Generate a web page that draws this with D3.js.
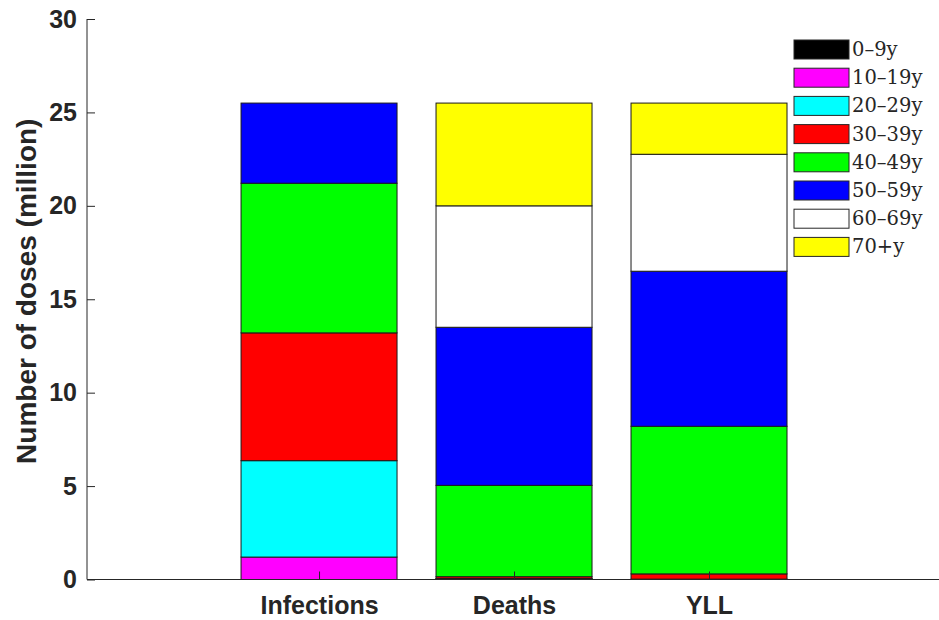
<!DOCTYPE html>
<html>
<head>
<meta charset="utf-8">
<script src="https://cdn.jsdelivr.net/npm/d3@7"></script>
<style>
  body { margin: 0; background: #fff; }
  svg { display: block; }
</style>
</head>
<body>
<svg id="chart" width="939" height="620"></svg>
<script>
const categories = ["Infections", "Deaths", "YLL"];
const ageGroups = ["0\u20139y", "10\u201319y", "20\u201329y", "30\u201339y", "40\u201349y", "50\u201359y", "60\u201369y", "70+y"];
const colors = ["#000000", "#ff00ff", "#00ffff", "#ff0000", "#00ff00", "#0000ff", "#ffffff", "#ffff00"];
// values per age group (million doses), one entry per category
const v0_9   = [0.00, 0.02, 0.00];
const v10_19 = [1.20, 0.01, 0.00];
const v20_29 = [5.16, 0.02, 0.02];
const v30_39 = [6.84, 0.10, 0.28];
const v40_49 = [8.01, 4.89, 7.90];
const v50_59 = [4.29, 8.46, 8.30];
const v60_69 = [0.00, 6.50, 6.26];
const v70p   = [0.00, 5.50, 2.74];
const yTicks = [0, 5, 10, 15, 20, 25, 30];

const series = [v0_9, v10_19, v20_29, v30_39, v40_49, v50_59, v60_69, v70p];

const svg = d3.select("#chart");
const x = d3.scaleLinear().domain([-0.19, 4.2]).range([87, 943]);
const y = d3.scaleLinear().domain([0, 30]).range([579.5, 19]);
const barW = 0.8;

const rows = categories.map((c, i) => {
  const r = { cat: c, pos: i + 1 };
  ageGroups.forEach((g, k) => r[g] = series[k][i]);
  return r;
});
const stack = d3.stack().keys(ageGroups)(rows);

const gBars = svg.append("g");
stack.forEach((layer, k) => {
  gBars.selectAll(null).data(layer).enter().append("rect")
    .attr("x", d => x(d.data.pos - barW / 2))
    .attr("width", d => x(d.data.pos + barW / 2) - x(d.data.pos - barW / 2))
    .attr("y", d => y(d[1]))
    .attr("height", d => Math.max(0, y(d[0]) - y(d[1])))
    .attr("fill", colors[k])
    .attr("stroke", "#1a1a1a")
    .attr("stroke-width", 1);
});

const axisColor = "#262626";
const fontSans = "Liberation Sans, Arial, sans-serif";
// Y axis
const yAxis = d3.axisLeft(y).tickValues(yTicks).tickSize(-8).tickPadding(10).tickFormat(d3.format("d"));
const gy = svg.append("g").attr("transform", "translate(87,0)").call(yAxis);
gy.select(".domain").attr("stroke", axisColor).attr("d", `M0,${y(30)}V${y(0)}`);
gy.selectAll(".tick line").attr("stroke", axisColor);
gy.selectAll(".tick text").attr("fill", axisColor)
  .style("font-family", fontSans)
  .style("font-size", "25px").style("font-weight", "bold");

// X axis
const xAxis = d3.axisBottom(x).tickValues([1, 2, 3]).tickSize(-8).tickPadding(17)
  .tickFormat((d, i) => categories[i]);
const gx = svg.append("g").attr("transform", `translate(0,${y(0)})`).call(xAxis);
gx.select(".domain").attr("stroke", axisColor).attr("d", `M87,0H939`);
gx.selectAll(".tick line").attr("stroke", axisColor);
gx.selectAll(".tick text").attr("fill", axisColor)
  .style("font-family", fontSans)
  .style("font-size", "25px").style("font-weight", "bold");

// Y label
svg.append("text")
  .attr("transform", `translate(36,${(y(0) + y(30)) / 2 - 8}) rotate(-90)`)
  .attr("text-anchor", "middle")
  .attr("fill", axisColor)
  .style("font-family", fontSans)
  .style("font-size", "28px").style("font-weight", "bold")
  .text("Number of doses (million)");

// Legend
const leg = svg.append("g").attr("transform", "translate(794,40)");
ageGroups.forEach((g, k) => {
  const row = leg.append("g").attr("transform", `translate(0,${k * 28.2})`);
  row.append("rect").attr("x", 0).attr("y", 0).attr("width", 55).attr("height", 19)
    .attr("fill", colors[k]).attr("stroke", "#262626").attr("stroke-width", 1);
  row.append("text").attr("x", 58).attr("y", 16)
    .attr("fill", "#262626")
    .style("font-family", "DejaVu Serif, serif")
    .style("font-size", "19.5px")
    .text(g);
});
</script>
</body>
</html>
